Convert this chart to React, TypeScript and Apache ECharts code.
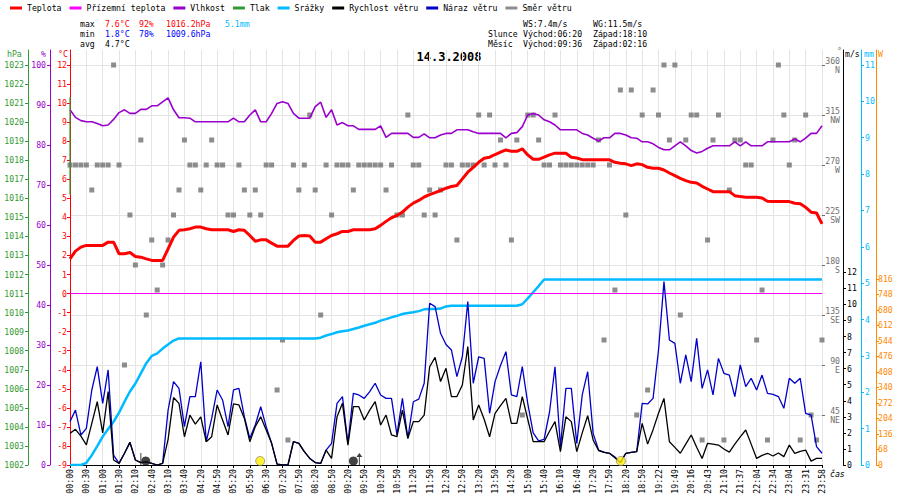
import { useEffect, useRef } from "react";
import * as echarts from "echarts";

// popisky osy x (každý 3. vzorek)
const TIME_LABELS = [
  "00:00", "00:30", "01:00", "01:30", "02:10", "02:40", "03:10", "03:40", "04:20", "04:50",
  "05:20", "05:50", "06:30", "07:20", "07:50", "08:20", "08:50", "09:20", "09:50", "10:20",
  "10:50", "11:20", "11:50", "12:20", "12:50", "13:20", "13:50", "14:20", "15:00", "15:40",
  "16:10", "16:40", "17:20", "17:50", "18:20", "18:50", "19:22", "19:49", "20:16", "20:43",
  "21:10", "21:37", "22:04", "22:34", "23:04", "23:31", "23:58",
];

// teplota °C
const TEMP = [
  1.82, 2.23, 2.44, 2.53, 2.53, 2.53, 2.53, 2.7, 2.7, 2.09,
  2.09, 2.16, 1.95, 1.91, 1.82, 1.74, 1.74, 1.74, 2.35, 2.96,
  3.32, 3.35, 3.4, 3.49, 3.49, 3.4, 3.35, 3.35, 3.35, 3.35,
  3.26, 3.35, 3.32, 3.05, 2.75, 2.82, 2.82, 2.65, 2.49, 2.49,
  2.49, 2.79, 3.02, 3.05, 3.02, 2.7, 2.7, 2.88, 3.05, 3.14,
  3.26, 3.26, 3.35, 3.35, 3.35, 3.35, 3.4, 3.58, 3.79, 3.98,
  4.1, 4.28, 4.54, 4.75, 4.89, 5.07, 5.19, 5.3, 5.41, 5.53,
  5.62, 5.67, 6.02, 6.37, 6.63, 6.89, 7.1, 7.16, 7.3, 7.42,
  7.54, 7.47, 7.47, 7.6, 7.28, 7.05, 7.05, 7.16, 7.28, 7.37,
  7.37, 7.37, 7.16, 7.12, 7.03, 7.03, 7.03, 7.03, 7.03, 7.02,
  6.89, 6.84, 6.81, 6.72, 6.81, 6.77, 6.63, 6.58, 6.58, 6.49,
  6.33, 6.19, 6.05, 5.93, 5.84, 5.81, 5.63, 5.49, 5.35, 5.35,
  5.35, 5.35, 5.14, 5.09, 5.06, 5.06, 5.06, 5.02, 4.85, 4.83,
  4.83, 4.83, 4.83, 4.74, 4.71, 4.53, 4.27, 4.23, 3.66,
];

// vlhkost %
const HUMIDITY = [
  88.8, 86.9, 86.1, 85.8, 85.8, 85.4, 84.8, 85, 86.4, 88.1,
  88.8, 87.9, 87.9, 88.9, 88.9, 89.8, 89.8, 90.8, 91.8, 88.8,
  86.8, 86.8, 86.7, 85.8, 85.8, 85.8, 85.8, 85.8, 85.8, 85.8,
  86.7, 85.8, 85.8, 87.5, 88.8, 85.8, 85.8, 87.9, 90.4, 90.8,
  90.4, 87.9, 86.7, 86.7, 86.7, 89.6, 90.7, 86.9, 88.8, 85,
  85.6, 84.8, 84.8, 83.9, 83.9, 83.9, 83.9, 84.8, 81.9, 82.9,
  82.9, 82.9, 82.9, 81.9, 81.9, 82.8, 81.8, 81.8, 82.5, 82.9,
  82.9, 83.8, 83.8, 83.8, 83.3, 82.9, 82.9, 82.9, 82.9, 82.9,
  81.8, 82.9, 83.1, 84.6, 87.5, 87.9, 87.5, 86.3, 85.8, 85,
  83.8, 83.8, 83.8, 83.8, 82.9, 82.5, 81.7, 81, 81.8, 81.8,
  82.9, 82.9, 82.5, 81.8, 81.7, 80.8, 80.8, 80.3, 79.4, 78.8,
  78.8, 79.8, 80.8, 79.8, 78.6, 78, 78.4, 79.2, 79.8, 79.8,
  79.8, 79.8, 80.8, 79.8, 80.8, 79.8, 79.8, 79.8, 80.8, 80.8,
  80.8, 80.8, 80.8, 81.5, 80.8, 81.7, 82.9, 82.9, 84.8,
];

// srážky mm (kumulativně)
const RAIN = [
  0, 0, 0, 0.06, 0.27, 0.52, 0.78, 0.99, 1.19, 1.44,
  1.74, 2.02, 2.24, 2.52, 2.8, 3.0, 3.07, 3.2, 3.31, 3.42,
  3.48, 3.48, 3.48, 3.48, 3.48, 3.48, 3.48, 3.48, 3.48, 3.48,
  3.48, 3.48, 3.48, 3.48, 3.48, 3.48, 3.48, 3.48, 3.48, 3.48,
  3.48, 3.48, 3.48, 3.48, 3.48, 3.48, 3.5, 3.56, 3.6, 3.65,
  3.68, 3.7, 3.74, 3.78, 3.83, 3.87, 3.91, 3.97, 4.01, 4.06,
  4.1, 4.15, 4.18, 4.2, 4.23, 4.28, 4.29, 4.29, 4.3, 4.36,
  4.38, 4.38, 4.38, 4.38, 4.38, 4.38, 4.38, 4.38, 4.38, 4.38,
  4.38, 4.38, 4.38, 4.42, 4.58, 4.75, 4.92, 5.1, 5.1, 5.1,
  5.1, 5.1, 5.1, 5.1, 5.1, 5.1, 5.1, 5.1, 5.1, 5.1,
  5.1, 5.1, 5.1, 5.1, 5.1, 5.1, 5.1, 5.1, 5.1, 5.1,
  5.1, 5.1, 5.1, 5.1, 5.1, 5.1, 5.1, 5.1, 5.1, 5.1,
  5.1, 5.1, 5.1, 5.1, 5.1, 5.1, 5.1, 5.1, 5.1, 5.1,
  5.1, 5.1, 5.1, 5.1, 5.1, 5.1, 5.1, 5.1, 5.1,
];

// rychlost větru m/s
const WIND = [
  1.97, 2.22, 1.8, 1.25, 2.59, 3.94, 2.0, 4.57, 0.31, 0.1,
  0.73, 1.41, 0.31, 0.15, 0.2, 0.1, 0, 0.1, 1.6, 4.2,
  3.84, 1.76, 3.11, 2.55, 3.0, 1.45, 1.76, 3.74, 2.8, 1.87,
  3.8, 3.74, 2.9, 1.45, 2.39, 3.0, 2.18, 1.35, 0.05, 0,
  0, 1.45, 1.35, 0.83, 0.41, 0.15, 0.1, 0.93, 0.41, 3.0,
  3.84, 1.24, 3.63, 3.63, 2.8, 3.42, 3.94, 2.49, 3.11, 1.87,
  1.76, 3.42, 1.66, 2.7, 2.7, 3.11, 6.12, 6.7, 5.2, 6.02,
  4.26, 4.26, 4.98, 7.37, 2.8, 3.74, 2.85, 1.76, 3.22, 3.7,
  4.15, 2.59, 2.59, 4.26, 2.85, 1.45, 1.45, 1.45, 2.1, 2.7,
  0.83, 3.0, 2.7, 0.83, 2.0, 3.07, 1.56, 0.9, 0.78, 0.73,
  0.45, 0.15, 0.73, 0.78, 0.83, 2.59, 1.3, 2.2, 3.22, 4.15,
  1.45, 1.1, 0.73, 1.3, 1.87, 1.1, 0.41, 1.35, 1.3, 1.24,
  1.0, 0.8, 1.3, 1.75, 2.18, 1.3, 0.41, 0.6, 0.73, 0.56,
  0.75, 0.52, 1.24, 0.73, 0.85, 0.93, 0.24, 0.41, 0.41,
];

// náraz větru m/s
const GUST = [
  2.7, 3.42, 1.87, 2.28, 4.67, 6.12, 3.84, 5.92, 0.62, 0.1,
  0.73, 1.41, 0.31, 0.15, 0.2, 0.1, 0, 0.1, 3.42, 5.19,
  4.77, 2.39, 4.26, 4.26, 6.43, 1.45, 2.9, 4.67, 4.05, 2.39,
  4.67, 4.77, 3.0, 1.66, 2.49, 3.63, 2.39, 1.35, 0.05, 0,
  0, 1.45, 1.35, 0.83, 0.41, 0.15, 0.1, 0.93, 1.35, 3.84,
  4.26, 1.35, 4.46, 4.36, 4.15, 4.57, 5.09, 4.36, 4.15, 4.15,
  1.87, 4.15, 1.66, 3.94, 4.1, 5.09, 10.07, 9.86, 8.2, 7.5,
  7.16, 5.5, 6.74, 10.17, 5.09, 6.74, 6.64, 3.22, 5.19, 6.2,
  7.06, 4.36, 4.26, 6.12, 3.84, 2.0, 1.5, 1.6, 3.3, 6.12,
  1.14, 4.77, 4.77, 1.35, 4.36, 5.81, 1.97, 0.93, 0.8, 0.73,
  0.5, 0.15, 0.73, 0.78, 0.83, 3.84, 3.8, 4.15, 7.16, 11.42,
  7.78, 7.57, 5.09, 6.85, 5.19, 7.88, 4.77, 5.92, 4.36, 6.64,
  5.71, 5.6, 4.26, 6.23, 4.88, 5.4, 4.67, 5.6, 4.46, 4.4,
  4.26, 3.53, 5.4, 5.09, 5.4, 3.22, 3.11, 1.14, 0.73,
];

// směr větru °
const DIRECTION = [
  270, 270, 270, 270, 247.5, 270, 270, 270, 360, 270,
  90, 225, 180, 292.5, 135, 202.5, 157.5, 180, 202.5, 225,
  247.5, 292.5, 270, 270, 247.5, 270, 292.5, 270, 270, 225,
  225, 270, 247.5, 225, 247.5, 225, 270, 270, 67.5, 112.5,
  22.5, 270, 247.5, 270, 315, 247.5, 135, 270, 225, 270,
  270, 270, 247.5, 270, 270, 270, 270, 270, 247.5, 270,
  225, 225, 315, 270, 270, 225, 247.5, 225, 247.5, 270,
  270, 202.5, 270, 270, 270, 315, 270, 315, 270, 292.5,
  270, 202.5, 292.5, 45, 315, 315, 292.5, 270, 270, 315,
  270, 270, 270, 270, 270, 270, 270, 292.5, 112.5, 270,
  157.5, 337.5, 225, 337.5, 45, 315, 67.5, 337.5, 315, 360,
  292.5, 360, 135, 292.5, 315, 315, 22.5, 202.5, 292.5, 315,
  22.5, 247.5, 292.5, 292.5, 270, 270, 112.5, 157.5, 22.5, 292.5,
  360, 315, 270, 292.5, 22.5, 315, 45, 22.5, 112.5,
];

// tlak: svislý úsek na začátku dne (hPa)
const PRESSURE_TRACE = [1016.2, 1021.3];

// události (pozice ve vzorcích)
const SUN_EVENTS = [34.9, 101.1];
const MOON_EVENTS = [13.9, 52.0];
const MOON_SET_MARK = [13.0];
const MOON_RISE_MARK = [53.1];

// popisky os
const TEMP_TICKS = [-9, -8, -7, -6, -5, -4, -3, -2, -1, 0, 1, 2, 3, 4, 5, 6, 7, 8, 9, 10, 11, 12];
const PRESSURE_TICKS = [1002, 1003, 1004, 1005, 1006, 1007, 1008, 1009, 1010, 1011, 1012, 1013, 1014, 1015, 1016, 1017, 1018, 1019, 1020, 1021, 1022, 1023];
const HUMIDITY_TICKS = [0, 10, 20, 30, 40, 50, 60, 70, 80, 90, 100];
const DIR_TICKS = [45, 90, 135, 180, 225, 270, 315, 360];
const DIR_NAMES = ["NE", "E", "SE", "S", "SW", "W", "NW", "N"];
const WIND_TICKS = [0, 1, 2, 3, 4, 5, 6, 7, 8, 9, 10, 11, 12];
const RAIN_TICKS = [0, 1, 2, 3, 4, 5, 6, 7, 8, 9, 10, 11];
const POWER_TICKS = [0, 68, 136, 204, 272, 340, 408, 476, 544, 612, 680, 748, 816];

// statistiky
const MAX_STATS = ["7.6°C", "92%", "1016.2hPa", "5.1mm"];
const MIN_STATS = ["1.8°C", "78%", "1009.6hPa"];
const AVG_STATS = ["4.7°C"];
const WIND_STATS = ["WS:7.4m/s", "WG:11.5m/s"];
const SUN_TIMES = ["Východ:06:20", "Západ:18:10"];
const MOON_TIMES = ["Východ:09:36", "Západ:02:16"];

const RED = "#ff0000";
const BLUE = "#0000ff";
const PURPLE = "#9900cc";
const GREEN = "#339933";
const SKY = "#00bbff";
const ORANGE = "#ff8800";
const GRAY = "#707070";
const GRID = "#e4e4e4";
const MONO = '"DejaVu Sans Mono", monospace';
const FS = 8.2;

const txt = (x: number, y: number, text: string, fill: string, extra: Record<string, unknown> = {}) => ({
  type: "text",
  x,
  y,
  silent: true,
  style: { text, fill, fontSize: FS, fontFamily: MONO, verticalAlign: "middle", ...extra },
});

function yAxis(opts: {
  position: "left" | "right";
  offset: number;
  min: number;
  max: number;
  color: string;
  ticks: number[];
  margin?: number;
}) {
  return {
    type: "value",
    position: opts.position,
    offset: opts.offset,
    min: opts.min,
    max: opts.max,
    axisLine: { show: true, lineStyle: { color: opts.color, width: 1 } },
    axisTick: { show: true, length: 3, lineStyle: { color: opts.color }, customValues: opts.ticks },
    axisLabel: {
      color: opts.color,
      fontSize: FS,
      fontFamily: MONO,
      margin: opts.margin ?? 4,
      customValues: opts.ticks,
      formatter: (v: number) => (opts.ticks.includes(v) ? String(v) : ""),
    },
    splitLine: { show: false },
  };
}

export default function App() {
  const chartRef = useRef<HTMLDivElement>(null);

  useEffect(() => {
    if (!chartRef.current) return;
    const chart = echarts.init(chartRef.current, null, { renderer: "svg" });

    const option = {
      animation: false,
      backgroundColor: "#ffffff",
      textStyle: { fontFamily: MONO },
      grid: { left: 70, right: 78, top: 50, bottom: 35, containLabel: false },
      legend: {
        left: 10,
        top: 4,
        padding: 0,
        icon: "rect",
        itemWidth: 12,
        itemHeight: 3,
        itemGap: 8,
        selectedMode: false,
        textStyle: { fontSize: FS, fontFamily: MONO, color: "#000" },
        data: ["Teplota", "Přízemní teplota", "Vlhkost", "Tlak", "Srážky", "Rychlost větru", "Náraz větru", "Směr větru"],
      },
      xAxis: {
        type: "value",
        min: 0,
        max: TEMP.length - 1,
        interval: 3,
        axisLine: { show: true, onZero: false, lineStyle: { color: "#000" } },
        axisTick: { show: true, length: 3, lineStyle: { color: "#000" } },
        axisLabel: {
          rotate: 90,
          fontSize: FS,
          fontFamily: MONO,
          color: "#000",
          margin: 4,
          formatter: (v: number) => TIME_LABELS[Math.round(v / 3)] ?? "",
        },
        splitLine: { show: true, lineStyle: { color: GRID } },
      },
      yAxis: [
        // 0 °C
        yAxis({ position: "left", offset: 0, min: -9, max: 12.787, color: RED, ticks: TEMP_TICKS, margin: 3 }),
        // 1 hPa
        yAxis({ position: "left", offset: 42, min: 1002, max: 1023.787, color: GREEN, ticks: PRESSURE_TICKS }),
        // 2 %
        yAxis({ position: "left", offset: 20, min: 0, max: 103.75, color: PURPLE, ticks: HUMIDITY_TICKS }),
        // 3 ° směr
        {
          type: "value",
          position: "right",
          offset: 0,
          min: 0,
          max: 373.5,
          interval: 45,
          axisLine: { show: false },
          axisTick: { show: true, length: 3, lineStyle: { color: GRAY }, customValues: DIR_TICKS },
          axisLabel: {
            customValues: DIR_TICKS,
            color: GRAY,
            fontSize: FS,
            fontFamily: MONO,
            align: "right",
            margin: 18,
            lineHeight: 9,
            padding: [9, 0, 0, 0],
            formatter: (v: number) => {
              const k = DIR_TICKS.indexOf(v);
              return k >= 0 ? `${v}\n${DIR_NAMES[k]}` : "";
            },
          },
          splitLine: { show: true, lineStyle: { color: GRID } },
        },
        // 4 m/s
        yAxis({ position: "right", offset: 21, min: 0, max: 25.84, color: "#000", ticks: WIND_TICKS }),
        // 5 mm
        yAxis({ position: "right", offset: 39, min: 0, max: 11.41, color: SKY, ticks: RAIN_TICKS }),
        // 6 W
        yAxis({ position: "right", offset: 54, min: 0, max: 1820.6, color: ORANGE, ticks: POWER_TICKS, margin: 2 }),
      ],
      series: [
        {
          name: "Směr větru",
          type: "scatter",
          yAxisIndex: 3,
          symbol: "rect",
          symbolSize: 5,
          color: GRAY,
          itemStyle: { color: GRAY },
          z: 1,
          data: DIRECTION.map((d, i) => [i, d]),
        },
        {
          name: "Srážky",
          type: "line",
          yAxisIndex: 5,
          showSymbol: false,
          color: SKY,
          lineStyle: { color: SKY, width: 2.5 },
          z: 2,
          data: RAIN.map((v, i) => [i, v]),
        },
        {
          name: "Přízemní teplota",
          type: "line",
          yAxisIndex: 0,
          showSymbol: false,
          color: "#ff00ff",
          data: [],
          markLine: {
            silent: true,
            symbol: "none",
            label: { show: false },
            lineStyle: { color: "#ff00ff", width: 1, type: "solid" },
            data: [{ yAxis: 0 }],
          },
        },
        {
          name: "Vlhkost",
          type: "line",
          yAxisIndex: 2,
          showSymbol: false,
          color: PURPLE,
          lineStyle: { color: PURPLE, width: 1.6 },
          z: 3,
          data: HUMIDITY.map((v, i) => [i, v]),
        },
        {
          name: "Teplota",
          type: "line",
          yAxisIndex: 0,
          showSymbol: false,
          color: RED,
          lineStyle: { color: RED, width: 3 },
          z: 4,
          data: TEMP.map((v, i) => [i, v]),
        },
        {
          name: "Tlak",
          type: "line",
          yAxisIndex: 1,
          showSymbol: false,
          color: GREEN,
          lineStyle: { color: GREEN, width: 1.2 },
          z: 5,
          data: PRESSURE_TRACE.map((v) => [0, v]),
        },
        {
          name: "Náraz větru",
          type: "line",
          yAxisIndex: 4,
          showSymbol: false,
          color: "#0000cc",
          lineStyle: { color: "#0000cc", width: 1.3 },
          z: 5,
          data: GUST.map((v, i) => [i, v]),
        },
        {
          name: "Rychlost větru",
          type: "line",
          yAxisIndex: 4,
          showSymbol: false,
          color: "#000",
          lineStyle: { color: "#000", width: 1.3 },
          z: 6,
          data: WIND.map((v, i) => [i, v]),
        },
        {
          name: "sun",
          type: "scatter",
          yAxisIndex: 4,
          symbol: "circle",
          symbolSize: 9,
          symbolOffset: [0, -4],
          itemStyle: { color: "#ffee00", borderColor: "#777", borderWidth: 0.8 },
          z: 7,
          data: SUN_EVENTS.map((x) => [x, 0]),
        },
        {
          name: "moon",
          type: "scatter",
          yAxisIndex: 4,
          symbol: "circle",
          symbolSize: 9,
          symbolOffset: [0, -4],
          itemStyle: { color: "#111" },
          z: 7,
          data: MOON_EVENTS.map((x) => [x, 0]),
        },
        {
          name: "moonset",
          type: "scatter",
          yAxisIndex: 4,
          symbol: "rect",
          symbolSize: [1, 12],
          symbolOffset: [0, -6],
          itemStyle: { color: "#111" },
          z: 7,
          data: MOON_SET_MARK.map((x) => [x, 0]),
        },
        {
          name: "moonrise",
          type: "scatter",
          yAxisIndex: 4,
          symbol: "path://M3,0 L6,4 L3.5,4 L3.5,12 L2.5,12 L2.5,4 L0,4 Z",
          symbolSize: [6, 12],
          symbolOffset: [0, -6],
          itemStyle: { color: "#111" },
          z: 7,
          data: MOON_RISE_MARK.map((x) => [x, 0]),
        },
      ],
      graphic: [
        txt(80, 24, "max", "#000"),
        txt(105, 24, MAX_STATS[0], RED),
        txt(139, 24, MAX_STATS[1], RED),
        txt(166, 24, MAX_STATS[2], RED),
        txt(225, 24, MAX_STATS[3], SKY),
        txt(80, 34, "min", "#000"),
        txt(105, 34, MIN_STATS[0], BLUE),
        txt(139, 34, MIN_STATS[1], BLUE),
        txt(166, 34, MIN_STATS[2], BLUE),
        txt(80, 44, "avg", "#000"),
        txt(105, 44, AVG_STATS[0], "#000"),
        txt(523, 24, WIND_STATS[0], "#000"),
        txt(593, 24, WIND_STATS[1], "#000"),
        txt(488, 34, "Slunce", "#000"),
        txt(523, 34, SUN_TIMES[0], "#000"),
        txt(593, 34, SUN_TIMES[1], "#000"),
        txt(488, 44, "Měsíc", "#000"),
        txt(523, 44, MOON_TIMES[0], "#000"),
        txt(593, 44, MOON_TIMES[1], "#000"),
        txt(449, 57, "14.3.2008", "#000", { fontSize: 12, fontWeight: "bold", align: "center" }),
        txt(7, 54, "hPa", GREEN),
        txt(41, 54, "%", PURPLE),
        txt(58, 54, "°C", RED),
        txt(837, 51, "°", GRAY),
        txt(845, 54, "m/s", "#000"),
        txt(864, 54, "mm", SKY),
        txt(878, 54, "W", ORANGE),
        txt(830, 474, "čas", "#000", { fontStyle: "italic" }),
      ],
    };

    chart.setOption(option as echarts.EChartsOption);
    return () => chart.dispose();
  }, []);

  return (
    <div
      ref={chartRef}
      style={{ position: "absolute", left: 0, top: 0, width: 900, height: 500, background: "#fff" }}
    />
  );
}
